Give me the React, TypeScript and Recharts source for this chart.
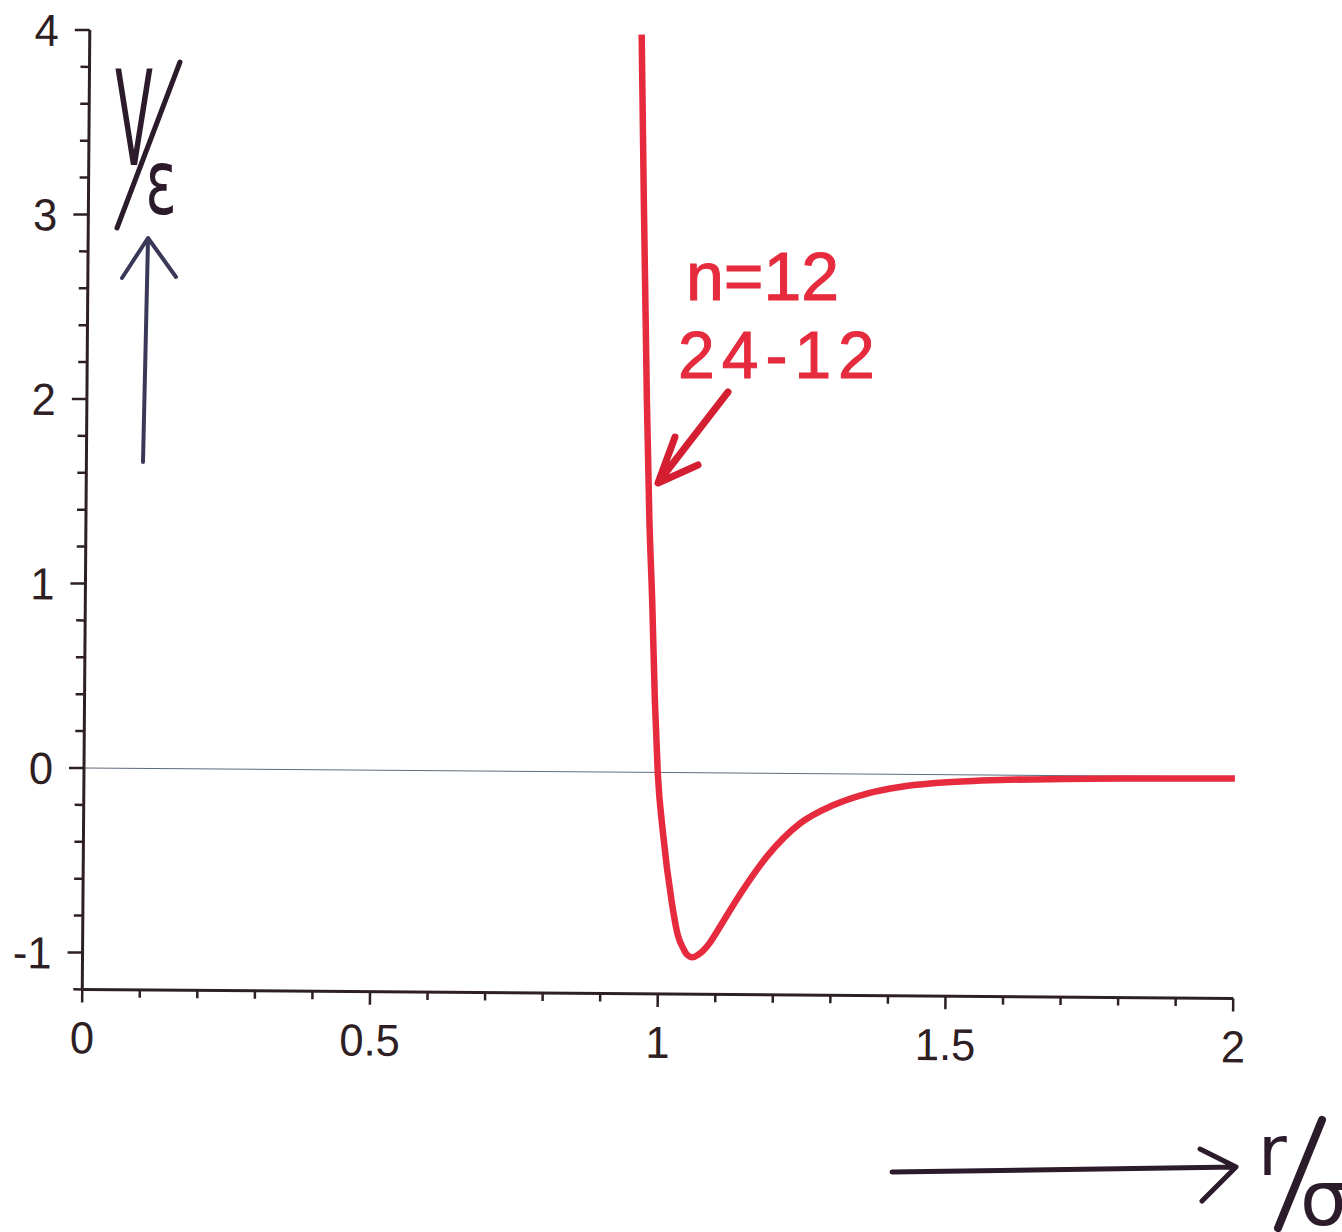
import React from 'react';
import { LineChart, Line, XAxis, YAxis, ReferenceLine } from 'recharts';

// r / sigma and V / epsilon readings along the 24-12 potential curve
const rValues = [0.959, 0.965, 0.973, 0.979, 0.985, 0.991, 0.997, 1.007, 1.023, 1.034, 1.045, 1.05, 1.06, 1.07, 1.078, 1.09, 1.102, 1.141, 1.188, 1.245, 1.302, 1.361, 1.418, 1.475, 1.534, 1.592, 1.7, 1.8, 1.9, 2.0];
const vValues = [4.0, 3.1, 2.02, 1.37, 0.93, 0.39, 0.0, -0.33, -0.7, -0.88, -0.96, -0.985, -1.0, -0.985, -0.965, -0.92, -0.86, -0.66, -0.45, -0.27, -0.17, -0.105, -0.068, -0.047, -0.034, -0.026, -0.018, -0.013, -0.01, -0.008];

const xTicks = [0, 0.1, 0.2, 0.3, 0.4, 0.5, 0.6, 0.7, 0.8, 0.9, 1, 1.1, 1.2, 1.3, 1.4, 1.5, 1.6, 1.7, 1.8, 1.9, 2];
const yTicks = [-1.2, -1, -0.8, -0.6, -0.4, -0.2, 0, 0.2, 0.4, 0.6, 0.8, 1, 1.2, 1.4, 1.6, 1.8, 2, 2.2, 2.4, 2.6, 2.8, 3, 3.2, 3.4, 3.6, 3.8, 4];

const data = rValues.map((r, i) => ({ r, v: vValues[i] }));

const axisColor = '#2e2022';
const inkColor = '#2c1b2b';
const red = '#e52b3d';
const labelFont = '"Liberation Sans", Arial, sans-serif';

const isMajor = (v: number) => Math.abs(v - Math.round(v)) < 1e-6;

const YTick = (props: any) => {
  const { x, y, payload } = props;
  const major = isMajor(payload.value);
  return (
    <g>
      <line x1={x - (major ? 15 : 9)} x2={x} y1={y} y2={y} stroke={axisColor} strokeWidth={2.5} />
      {major && (
        <g transform={`translate(${x - 31},${y}) scale(1.28,1.32)`}>
          <text textAnchor="end" dy="0.36em" fontSize={34} fontFamily={labelFont} fill={axisColor}>
            {Math.round(payload.value)}
          </text>
        </g>
      )}
    </g>
  );
};

const XTick = (props: any) => {
  const { x, y, payload } = props;
  const v = payload.value;
  const labeled = Math.abs(v * 2 - Math.round(v * 2)) < 1e-6;
  return (
    <g>
      <line x1={x} x2={x} y1={y} y2={y + (labeled ? 13 : 8)} stroke={axisColor} strokeWidth={2.5} />
      {labeled && (
        <g transform={`translate(${x},${y + 64}) scale(1.28,1.32)`}>
          <text textAnchor="middle" fontSize={34} fontFamily={labelFont} fill={axisColor}>
            {String(Math.round(v * 10) / 10)}
          </text>
        </g>
      )}
    </g>
  );
};

const handFont = '"DejaVu Sans", sans-serif';

const Notes = () => (
  <svg width={1342} height={1232} style={{ position: 'absolute', left: 0, top: 0, pointerEvents: 'none' }}>
    {/* V / epsilon with the upward arrow */}
    <g transform="translate(134,165) scale(0.42,1)">
      <text textAnchor="middle" fontSize={132} fontFamily={handFont} fill={inkColor}>V</text>
    </g>
    <path d="M180,62 L117,228" fill="none" stroke={inkColor} strokeWidth={5} strokeLinecap="round" />
    <g transform="translate(161,214) scale(0.65,1)">
      <text textAnchor="middle" fontSize={90} fontFamily={handFont} fill={inkColor}>ε</text>
    </g>
    <path d="M143,462 L148,240 M122,278 L148,238 L176,277" fill="none" stroke="#3a3858" strokeWidth={4} strokeLinecap="round" strokeLinejoin="round" />

    {/* red note on the repulsive wall */}
    <text x={686} y={300} fontSize={68} fontFamily={labelFont} fill={red} stroke={red} strokeWidth={1}>n=12</text>
    <text x={678} y={378} fontSize={66} letterSpacing={7} fontFamily={labelFont} fill={red} stroke={red} strokeWidth={1}>24-12</text>
    <path d="M728,392 L660,480 M675,437 L658,483 L698,465" fill="none" stroke="#d41f32" strokeWidth={7} strokeLinecap="round" strokeLinejoin="round" />

    {/* r / sigma with the arrow along the bottom */}
    <path d="M892,1172 L1236,1167 M1200,1149 L1236,1167 L1202,1201" fill="none" stroke={inkColor} strokeWidth={5} strokeLinecap="round" strokeLinejoin="round" />
    <text x={1258} y={1175} fontSize={70} fontFamily={handFont} fill={inkColor}>r</text>
    <path d="M1322,1120 L1278,1228" fill="none" stroke={inkColor} strokeWidth={8} strokeLinecap="round" />
    <text x={1300} y={1225} fontSize={76} fontFamily={handFont} fill={inkColor}>σ</text>
  </svg>
);

const App: React.FC = () => {
  return (
    <div style={{ position: 'absolute', left: 0, top: 0, width: 1342, height: 1232, background: '#fff', overflow: 'hidden' }}>
      <div style={{ position: 'absolute', left: 0, top: 0, transform: 'rotate(0.45deg)', transformOrigin: '84px 768px' }}>
        <LineChart width={1342} height={1232} data={data} margin={{ top: 30, right: 107, bottom: 241.6, left: 83 }}>
          <XAxis
            dataKey="r"
            type="number"
            domain={[0, 2]}
            ticks={xTicks}
            interval={0}
            height={1}
            tickSize={0}
            tickMargin={0}
            tickLine={false}
            axisLine={{ stroke: axisColor, strokeWidth: 3 }}
            tick={<XTick />}
            allowDataOverflow
          />
          <YAxis
            type="number"
            domain={[-1.2, 4]}
            ticks={yTicks}
            interval={0}
            width={1}
            tickSize={0}
            tickMargin={0}
            tickLine={false}
            axisLine={{ stroke: axisColor, strokeWidth: 3 }}
            tick={<YTick />}
            allowDataOverflow
          />
          <ReferenceLine y={0} stroke="#5d6b7c" strokeWidth={1} />
          <Line type="monotone" dataKey="v" stroke={red} strokeWidth={6.5} dot={false} isAnimationActive={false} />
        </LineChart>
      </div>
      <Notes />
    </div>
  );
};

export default App;
